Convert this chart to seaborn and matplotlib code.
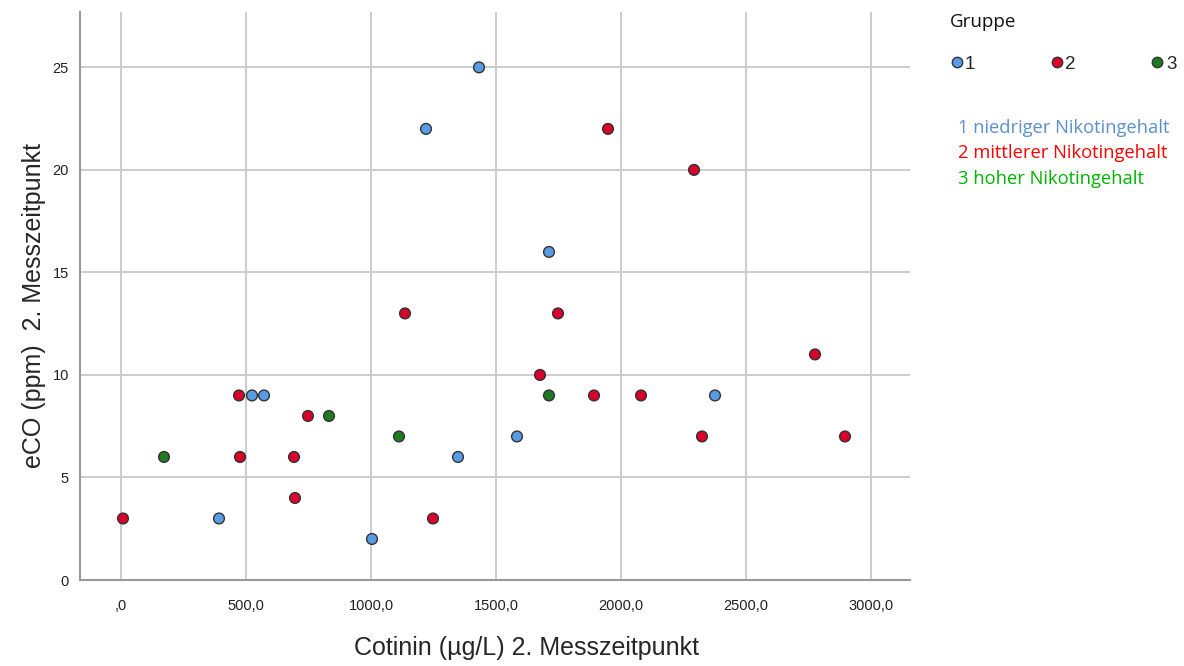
import numpy as np
import pandas as pd
import matplotlib
matplotlib.use("Agg")
import matplotlib.pyplot as plt
from matplotlib.lines import Line2D
import seaborn as sns

# Werte
cotinin_g1 = [1432, 1220, 1712, 524, 572, 2376, 1584, 1348, 392, 1004]
eco_g1 = [25, 22, 16, 9, 9, 9, 7, 6, 3, 2]
cotinin_g2 = [8, 472, 476, 748, 692, 696, 1136, 1248, 1948, 2292, 1748, 1676, 1892, 2080, 2324, 2776, 2896]
eco_g2 = [3, 9, 6, 8, 6, 4, 13, 3, 22, 20, 13, 10, 9, 9, 7, 11, 7]
cotinin_g3 = [172, 832, 1112, 1712]
eco_g3 = [6, 8, 7, 9]

groups = ["1", "2", "3"]
group_notes = ["1 niedriger Nikotingehalt", "2 mittlerer Nikotingehalt", "3 hoher Nikotingehalt"]
x_ticks = [0, 500, 1000, 1500, 2000, 2500, 3000]
x_ticklabels = [",0", "500,0", "1000,0", "1500,0", "2000,0", "2500,0", "3000,0"]
y_ticks = [0, 5, 10, 15, 20, 25]

palette = {"1": "#5a9be6", "2": "#d9002b", "3": "#1f7a22"}
note_colors = ["#5b8fd0", "#ff0000", "#00b400"]

df = pd.DataFrame({
    "Cotinin": cotinin_g1 + cotinin_g2 + cotinin_g3,
    "eCO": eco_g1 + eco_g2 + eco_g3,
    "Gruppe": ["1"] * len(cotinin_g1) + ["2"] * len(cotinin_g2) + ["3"] * len(cotinin_g3),
})

sns.set_style("white")
plt.rcParams["font.family"] = ["Liberation Sans", "DejaVu Sans"]

fig = plt.figure(figsize=(11.84, 6.66), dpi=100)
ax = fig.add_axes([80 / 1184, 1 - 580 / 666, 830 / 1184, 568 / 666])

sns.scatterplot(data=df, x="Cotinin", y="eCO", hue="Gruppe", palette=palette,
                s=60, edgecolor="#333333", linewidth=1.0, legend=False, ax=ax, zorder=3)

ax.set_xlim(-164, 3156)
ax.set_ylim(0, 27.7)
ax.set_xticks(x_ticks)
ax.set_xticklabels(x_ticklabels)
ax.set_yticks(y_ticks)
ax.tick_params(axis="both", length=0, labelsize=10.5, colors="#222222")
ax.tick_params(axis="x", pad=14)
ax.tick_params(axis="y", pad=8)
ax.grid(True, color="#cccccc", linewidth=1.4)
for side in ["top", "right"]:
    ax.spines[side].set_visible(False)
for side in ["left", "bottom"]:
    ax.spines[side].set_color("#999999")
    ax.spines[side].set_linewidth(1.5)

ax.set_xlabel("Cotinin (µg/L) 2. Messzeitpunkt", fontsize=18)
ax.set_ylabel("eCO (ppm)  2. Messzeitpunkt", fontsize=18)
ax.xaxis.set_label_coords((526 - 80) / 830, (580 - 636) / 568)
ax.yaxis.set_label_coords((46 - 80) / 830, (580 - 305) / 568)

# Legende: Titel separat, Einträge in einer Zeile
fig.text(950 / 1184, 1 - 22 / 666, "Gruppe", fontsize=13.5,
         family=["Open Sans", "DejaVu Sans"], va="center", color="#111111")
handles = [Line2D([0], [0], marker="o", linestyle="", markerfacecolor=palette[g],
                  markeredgecolor="#333333", markersize=7.5) for g in groups]
fig.legend(handles, groups, ncol=3, loc="center left",
           bbox_to_anchor=(935 / 1184, 1 - 64 / 666), frameon=False,
           fontsize=13.5, columnspacing=3.9, handletextpad=0.0, handlelength=0.9,
           borderpad=0.2)

for i, note in enumerate(group_notes):
    fig.text(958 / 1184, 1 - (128 + i * 25.5) / 666, note, color=note_colors[i],
             fontsize=13.2, family=["Open Sans", "DejaVu Sans"], va="center")

fig.savefig("out.png", dpi=100)
